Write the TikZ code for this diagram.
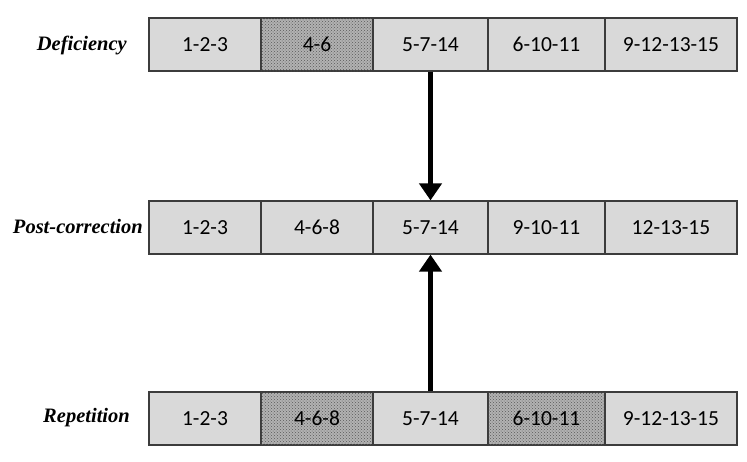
\documentclass[tikz,border=0pt]{standalone}
\usepackage{fontspec}
\setmainfont{Liberation Serif}
\newfontfamily\cellfont{Carlito}
\usetikzlibrary{arrows.meta,patterns}
\definecolor{cellgrey}{RGB}{217,217,217}
\definecolor{darkcell}{RGB}{178,178,178}
\definecolor{edgegrey}{RGB}{60,60,60}
\tikzset{
  cell/.style={draw=edgegrey,line width=1.2pt,fill=cellgrey,inner sep=0pt,
    minimum height=53pt,text depth=0pt,
    font=\cellfont\fontsize{21.5}{23}\selectfont},
  shadedcell/.style={cell,fill=darkcell,
    postaction={pattern=crosshatch dots,pattern color=gray!70!black}},
  rowlabel/.style={anchor=base east,inner sep=0pt,
    font=\fontsize{20.5}{22}\selectfont\bfseries\itshape},
  bigarrow/.style={line width=4.5pt,-{Triangle[length=17pt,width=22pt]}}
}
\begin{document}
\begin{tikzpicture}[x=1pt,y=-1pt]
      \useasboundingbox (0,0) rectangle (747,461);
      % deficiency row
      \node[rowlabel] (deflabel) at (127,50) {Deficiency};
      \node[cell,minimum width=112pt] (def1) at (205,44.5) {1-2-3};
      \node[shadedcell,minimum width=112pt] (def2) at (317,44.5) {4-6};
      \node[cell,minimum width=115pt] (def3) at (430.5,44.5) {5-7-14};
      \node[cell,minimum width=117pt] (def4) at (546.5,44.5) {6-10-11};
      \node[cell,minimum width=132pt] (def5) at (671,44.5) {9-12-13-15};
      % post-correction row
      \node[rowlabel] (postlabel) at (143,233) {Post-correction};
      \node[cell,minimum width=112pt] (post1) at (205,227.5) {1-2-3};
      \node[cell,minimum width=112pt] (post2) at (317,227.5) {4-6-8};
      \node[cell,minimum width=115pt] (post3) at (430.5,227.5) {5-7-14};
      \node[cell,minimum width=117pt] (post4) at (546.5,227.5) {9-10-11};
      \node[cell,minimum width=132pt] (post5) at (671,227.5) {12-13-15};
      % repetition row
      \node[rowlabel] (replabel) at (130,422) {Repetition};
      \node[cell,minimum width=112pt] (rep1) at (205,418.5) {1-2-3};
      \node[shadedcell,minimum width=112pt] (rep2) at (317,418.5) {4-6-8};
      \node[cell,minimum width=115pt] (rep3) at (430.5,418.5) {5-7-14};
      \node[shadedcell,minimum width=117pt] (rep4) at (546.5,418.5) {6-10-11};
      \node[cell,minimum width=132pt] (rep5) at (671,418.5) {9-12-13-15};
      % arrows
      \draw[bigarrow] (def3.south) -- (post3.north);
      \draw[bigarrow] (rep3.north) -- (post3.south);
    \end{tikzpicture}
\end{document}
